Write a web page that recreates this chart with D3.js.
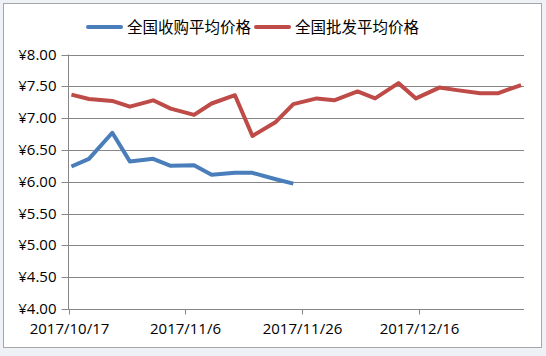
<!DOCTYPE html>
<html>
<head>
<meta charset="utf-8">
<script src="https://cdn.jsdelivr.net/npm/d3@7"></script>
<style>
html,body{margin:0;padding:0;background:#eef2f6;}
svg{display:block;}
</style>
</head>
<body>
<svg id="chart" width="546" height="356"></svg>
<script>
const dates = ["2017-10-17","2017-10-20","2017-10-24","2017-10-27","2017-10-31","2017-11-03","2017-11-07","2017-11-10","2017-11-14","2017-11-17","2017-11-21","2017-11-24","2017-11-28","2017-12-01","2017-12-05","2017-12-08","2017-12-12","2017-12-15","2017-12-19","2017-12-22","2017-12-26","2017-12-29","2018-01-02"];
const buyPrices = [6.24,6.36,6.77,6.32,6.36,6.25,6.26,6.11,6.14,6.14,6.04,5.97];
const wholesalePrices = [7.37,7.30,7.27,7.18,7.28,7.15,7.05,7.23,7.36,6.72,6.94,7.22,7.31,7.28,7.42,7.31,7.55,7.31,7.48,7.44,7.39,7.39,7.52];
const seriesNames = ["全国收购平均价格","全国批发平均价格"];
const yTicks = [4.0,4.5,5.0,5.5,6.0,6.5,7.0,7.5,8.0];
const xTickLabels = ["2017/10/17","2017/11/6","2017/11/26","2017/12/16"];
const xDomain = ["2017-10-17","2018-01-03"];

const parse = d3.timeParse("%Y-%m-%d");
const svg = d3.select("#chart");
const colors = ["#4a7ebb","#be4b48"];

// chart frame
svg.append("rect").attr("x",3.5).attr("y",3.5).attr("width",538).attr("height",344)
  .attr("fill","#ffffff").attr("stroke","#a6a6a6").attr("stroke-width",1);

const x = d3.scaleTime().domain(xDomain.map(parse)).range([68.5, 524]);
const y = d3.scaleLinear().domain([4,8]).range([309, 54.5]);

const labelFont = "'Open Sans', 'DejaVu Sans', sans-serif";
const labelSize = "15px";

// gridlines
svg.append("g").selectAll("line").data(yTicks).join("line")
  .attr("x1",68.5).attr("x2",524)
  .attr("y1",d=>Math.round(y(d))+0.5).attr("y2",d=>Math.round(y(d))+0.5)
  .attr("stroke","#868686").attr("stroke-width",1);

// y axis
const yAxis = d3.axisLeft(y).tickValues(yTicks).tickSize(7).tickPadding(5)
  .tickFormat(d=>"¥"+d3.format(".2f")(d));
const gy = svg.append("g").attr("transform","translate(68.5,0)").call(yAxis);
gy.select(".domain").attr("stroke","#868686").attr("d","M0,54.5V309.5");
gy.selectAll(".tick line").attr("stroke","#868686");
gy.selectAll(".tick").attr("transform",d=>`translate(0,${Math.round(y(d))+0.5})`);
gy.selectAll("text").attr("font-family",labelFont).attr("font-size",labelSize).attr("fill","#000");

// x axis
const xTickDates = xTickLabels.map(s=>d3.timeParse("%Y/%m/%d")(s));
const xAxis = d3.axisBottom(x).tickValues(xTickDates).tickSize(5).tickPadding(9)
  .tickFormat((d,i)=>xTickLabels[i]);
const gx = svg.append("g").attr("transform","translate(0,309.5)").call(xAxis);
gx.select(".domain").attr("stroke","#868686").attr("d","M68.5,0H524");
gx.selectAll(".tick line").attr("stroke","#868686");
gx.selectAll(".tick").attr("transform",d=>`translate(${Math.round(x(d))+0.5},0)`);
gx.selectAll("text").attr("font-family",labelFont).attr("font-size",labelSize).attr("fill","#000");

// lines (points at mid-day)
const pt = (s)=> d3.timeHour.offset(parse(s), 12);
const line = d3.line().x(d=>x(d.date)).y(d=>y(d.v));
[buyPrices, wholesalePrices].forEach((vals,k)=>{
  const data = vals.map((v,i)=>({date:pt(dates[i]), v}));
  svg.append("path").datum(data).attr("d",line)
    .attr("fill","none").attr("stroke",colors[k]).attr("stroke-width",4)
    .attr("stroke-linejoin","round");
});

// legend
const legendFont = "'Noto Sans CJK SC', sans-serif";
const legend = [{x:88, tx:127},{x:256, tx:295}];
legend.forEach((l,k)=>{
  svg.append("line").attr("x1",l.x).attr("x2",l.x+33).attr("y1",27).attr("y2",27)
    .attr("stroke",colors[k]).attr("stroke-width",4).attr("stroke-linecap","round");
  svg.append("text").attr("x",l.tx).attr("y",27).attr("dy","0.36em")
    .attr("font-family",legendFont).attr("font-size","15.5px").attr("fill","#000")
    .text(seriesNames[k]);
});
</script>
</body>
</html>
